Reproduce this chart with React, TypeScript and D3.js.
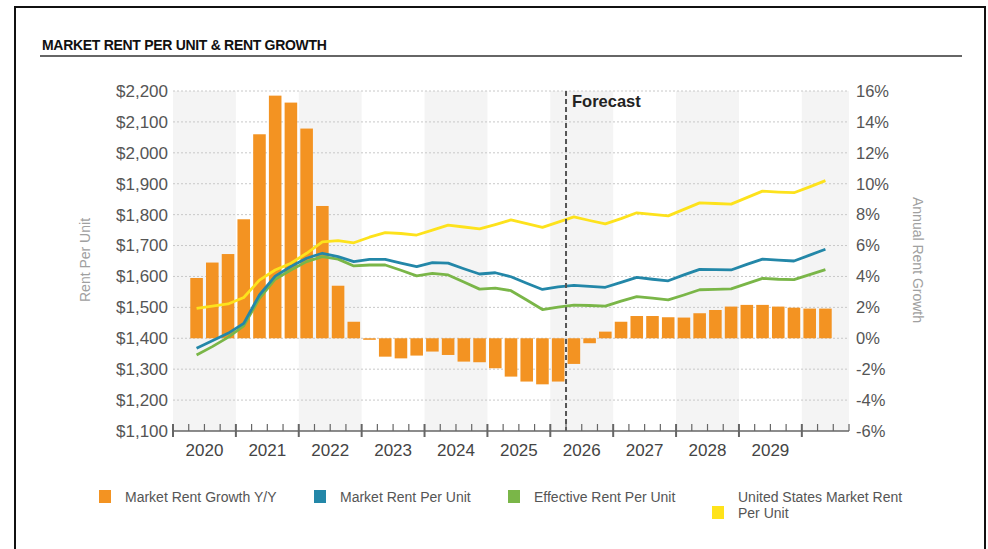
import React from 'react';
import * as d3 from 'd3';

// ---------- data ----------
const yearLabels = ['2020', '2021', '2022', '2023', '2024', '2025', '2026', '2027', '2028', '2029'];
const axisQuarters: string[] = [];
for (let y = 2020; y <= 2030; y++) for (let q = 1; q <= 4; q++) axisQuarters.push(`${y}Q${q}`);
const quarters = axisQuarters.slice(0, 43); // 2020Q1 .. 2030Q3
const firstDataQuarter = '2020Q2';
const forecastStart = '2026Q2';

const rentGrowth = [
  3.9, 4.9, 5.45, 7.7, 13.2, 15.7, 15.25, 13.57, 8.56, 3.4,
  1.07, -0.1, -1.19, -1.3, -1.12, -0.86, -1.08, -1.51, -1.55, -1.94,
  -2.48, -2.8, -2.98, -2.8, -1.66, -0.32, 0.43, 1.07, 1.44, 1.44,
  1.36, 1.34, 1.62, 1.83, 2.05, 2.16, 2.16, 2.05, 1.98, 1.92, 1.92,
];
const marketRent = [
  1368, 1392, 1416, 1448, 1540, 1601, 1632, 1659, 1675, 1664,
  1648, 1655, 1655, 1643, 1632, 1645, 1643, 1625, 1608, 1612,
  1599, 1578, 1558, 1566, 1571, 1568, 1565, 1581, 1597, 1591,
  1586, 1605, 1623, 1622, 1621, 1639, 1656, 1653, 1650, 1669, 1688,
];
const effectiveRent = [
  1346, 1373, 1403, 1440, 1529, 1591, 1621, 1648, 1664, 1656,
  1634, 1637, 1637, 1620, 1602, 1610, 1605, 1582, 1559, 1562,
  1554, 1524, 1493, 1501, 1507, 1506, 1504, 1520, 1535, 1530,
  1524, 1540, 1557, 1558, 1560, 1577, 1594, 1591, 1590, 1606, 1622,
];
const usRent = [
  1497, 1504, 1511, 1532, 1588, 1621, 1643, 1675, 1712, 1716,
  1709, 1727, 1742, 1739, 1734, 1750, 1766, 1760, 1754, 1768,
  1783, 1771, 1759, 1776, 1793, 1781, 1770, 1787, 1806, 1801,
  1796, 1817, 1838, 1836, 1834, 1855, 1876, 1873, 1871, 1890, 1910,
];
const leftTicks = [1100, 1200, 1300, 1400, 1500, 1600, 1700, 1800, 1900, 2000, 2100, 2200];
const rightTicks = [-6, -4, -2, 0, 2, 4, 6, 8, 10, 12, 14, 16];

const legendItems = [
  { label: ['Market Rent Growth Y/Y'], color: '#F39322', x: 99 },
  { label: ['Market Rent Per Unit'], color: '#2387A8', x: 314 },
  { label: ['Effective Rent Per Unit'], color: '#7AB648', x: 508 },
  { label: ['United States Market Rent', 'Per Unit'], color: '#FFE31A', x: 712 },
];

const COLORS = { bar: '#F39322', blue: '#2387A8', green: '#7AB648', yellow: '#FDE21C' };
const FONT = '"Liberation Sans", Arial, Helvetica, sans-serif';

export default function App() {
  const W = 988, H = 549;
  const x0 = 173, x1 = 849, yTop = 91, yBot = 431;

  const xBand = d3.scaleBand<string>().domain(quarters).range([x0, x1]).paddingInner(0.2).paddingOuter(0.1);
  const xEdge = d3.scaleLinear().domain([0, quarters.length]).range([x0, x1]);
  const yLeft = d3.scaleLinear().domain([1100, 2200]).range([yBot, yTop]);
  const yRight = d3.scaleLinear().domain([-6, 16]).range([yBot, yTop]);
  const bw = xBand.bandwidth();

  const startIdx = quarters.indexOf(firstDataQuarter);
  const dataQ = quarters.slice(startIdx, startIdx + rentGrowth.length);
  const cx = (i: number) => (xBand(dataQ[i]) as number) + bw / 2;

  const line = d3.line<number>().x((_, i) => cx(i)).y((d) => yLeft(d));

  const forecastX = xEdge(quarters.indexOf(forecastStart));

  const shades: { a: number; b: number }[] = [];
  for (let k = 0; k * 4 < quarters.length; k += 2) {
    shades.push({ a: xEdge(k * 4), b: xEdge(Math.min(k * 4 + 4, quarters.length)) });
  }

  const minorTicks = d3.range(0, quarters.length + 1);

  return (
    <svg width={W} height={H} style={{ position: 'absolute', left: 0, top: 0, background: '#fff' }} fontFamily={FONT}>
      {/* outer frame */}
      <rect x={15} y={7} width={970} height={600} fill="none" stroke="#111" strokeWidth={2} />
      {/* title */}
      <text x={42} y={50} fontSize={14} fontWeight="bold" fill="#111" letterSpacing={-0.3}>
        MARKET RENT PER UNIT &amp; RENT GROWTH
      </text>
      <line x1={40} x2={962} y1={56} y2={56} stroke="#333" strokeWidth={1.5} />

      {/* shaded year bands */}
      {shades.map((s, i) => (
        <rect key={i} x={s.a} y={yTop} width={s.b - s.a} height={yBot - yTop} fill="#f4f4f4" />
      ))}

      {/* gridlines */}
      {leftTicks.filter((t) => t !== 1100).map((t) => (
        <line key={t} x1={x0} x2={x1} y1={yLeft(t)} y2={yLeft(t)} stroke="#c8c8c8" strokeWidth={1} strokeDasharray="2,2" />
      ))}

      {/* bars */}
      {rentGrowth.map((v, i) => (
        <rect
          key={i}
          x={xBand(dataQ[i])}
          width={bw}
          y={yRight(Math.max(0, v))}
          height={Math.max(0.8, Math.abs(yRight(v) - yRight(0)))}
          fill={COLORS.bar}
        />
      ))}

      {/* lines */}
      <path d={line(effectiveRent) || ''} fill="none" stroke={COLORS.green} strokeWidth={2.8} strokeLinejoin="round" />
      <path d={line(marketRent) || ''} fill="none" stroke={COLORS.blue} strokeWidth={2.8} strokeLinejoin="round" />
      <path d={line(usRent) || ''} fill="none" stroke={COLORS.yellow} strokeWidth={2.8} strokeLinejoin="round" />

      {/* forecast line */}
      <line x1={forecastX} x2={forecastX} y1={yTop} y2={yBot} stroke="#555" strokeWidth={2} strokeDasharray="5,3" />
      <text x={forecastX + 6} y={107} fontSize={16.5} fontWeight="bold" fill="#222">Forecast</text>

      {/* x axis */}
      <line x1={x0} x2={x1} y1={yBot} y2={yBot} stroke="#666" strokeWidth={1.5} />
      {minorTicks.map((i) => {
        const major = i % 4 === 0;
        return (
          <line key={i} x1={xEdge(i)} x2={xEdge(i)} y1={yBot - 7} y2={major ? yBot + 6 : yBot} stroke="#666" strokeWidth={major ? 2 : 1.2} />
        );
      })}
      {yearLabels.map((y, k) => (
        <text key={y} x={xEdge(k * 4 + 2)} y={456} fontSize={17} fill="#444" textAnchor="middle">{y}</text>
      ))}

      {/* left axis labels */}
      {leftTicks.map((t) => (
        <text key={t} x={168} y={yLeft(t)} dy="0.35em" fontSize={17} fill="#555" textAnchor="end">
          {d3.format('$,')(t)}
        </text>
      ))}
      {/* right axis labels */}
      {rightTicks.map((t) => (
        <text key={t} x={856} y={yRight(t)} dy="0.35em" fontSize={16.5} fill="#555" textAnchor="start">
          {`${t}%`}
        </text>
      ))}

      {/* axis titles */}
      <text transform={`translate(85,260) rotate(-90)`} fontSize={14} fill="#a0a0a0" textAnchor="middle" dy="0.35em">Rent Per Unit</text>
      <text transform={`translate(918,260) rotate(90)`} fontSize={14} fill="#a0a0a0" textAnchor="middle" dy="0.35em">Annual Rent Growth</text>

      {/* legend */}
      {legendItems.map((it, i) => (
        <g key={i}>
          <rect x={it.x} y={it.label.length > 1 ? 506 : 490} width={12} height={13} fill={it.color} />
          {it.label.map((l, j) => (
            <text key={j} x={it.x + 26} y={502 + j * 16} fontSize={14} fill="#555">{l}</text>
          ))}
        </g>
      ))}
    </svg>
  );
}
